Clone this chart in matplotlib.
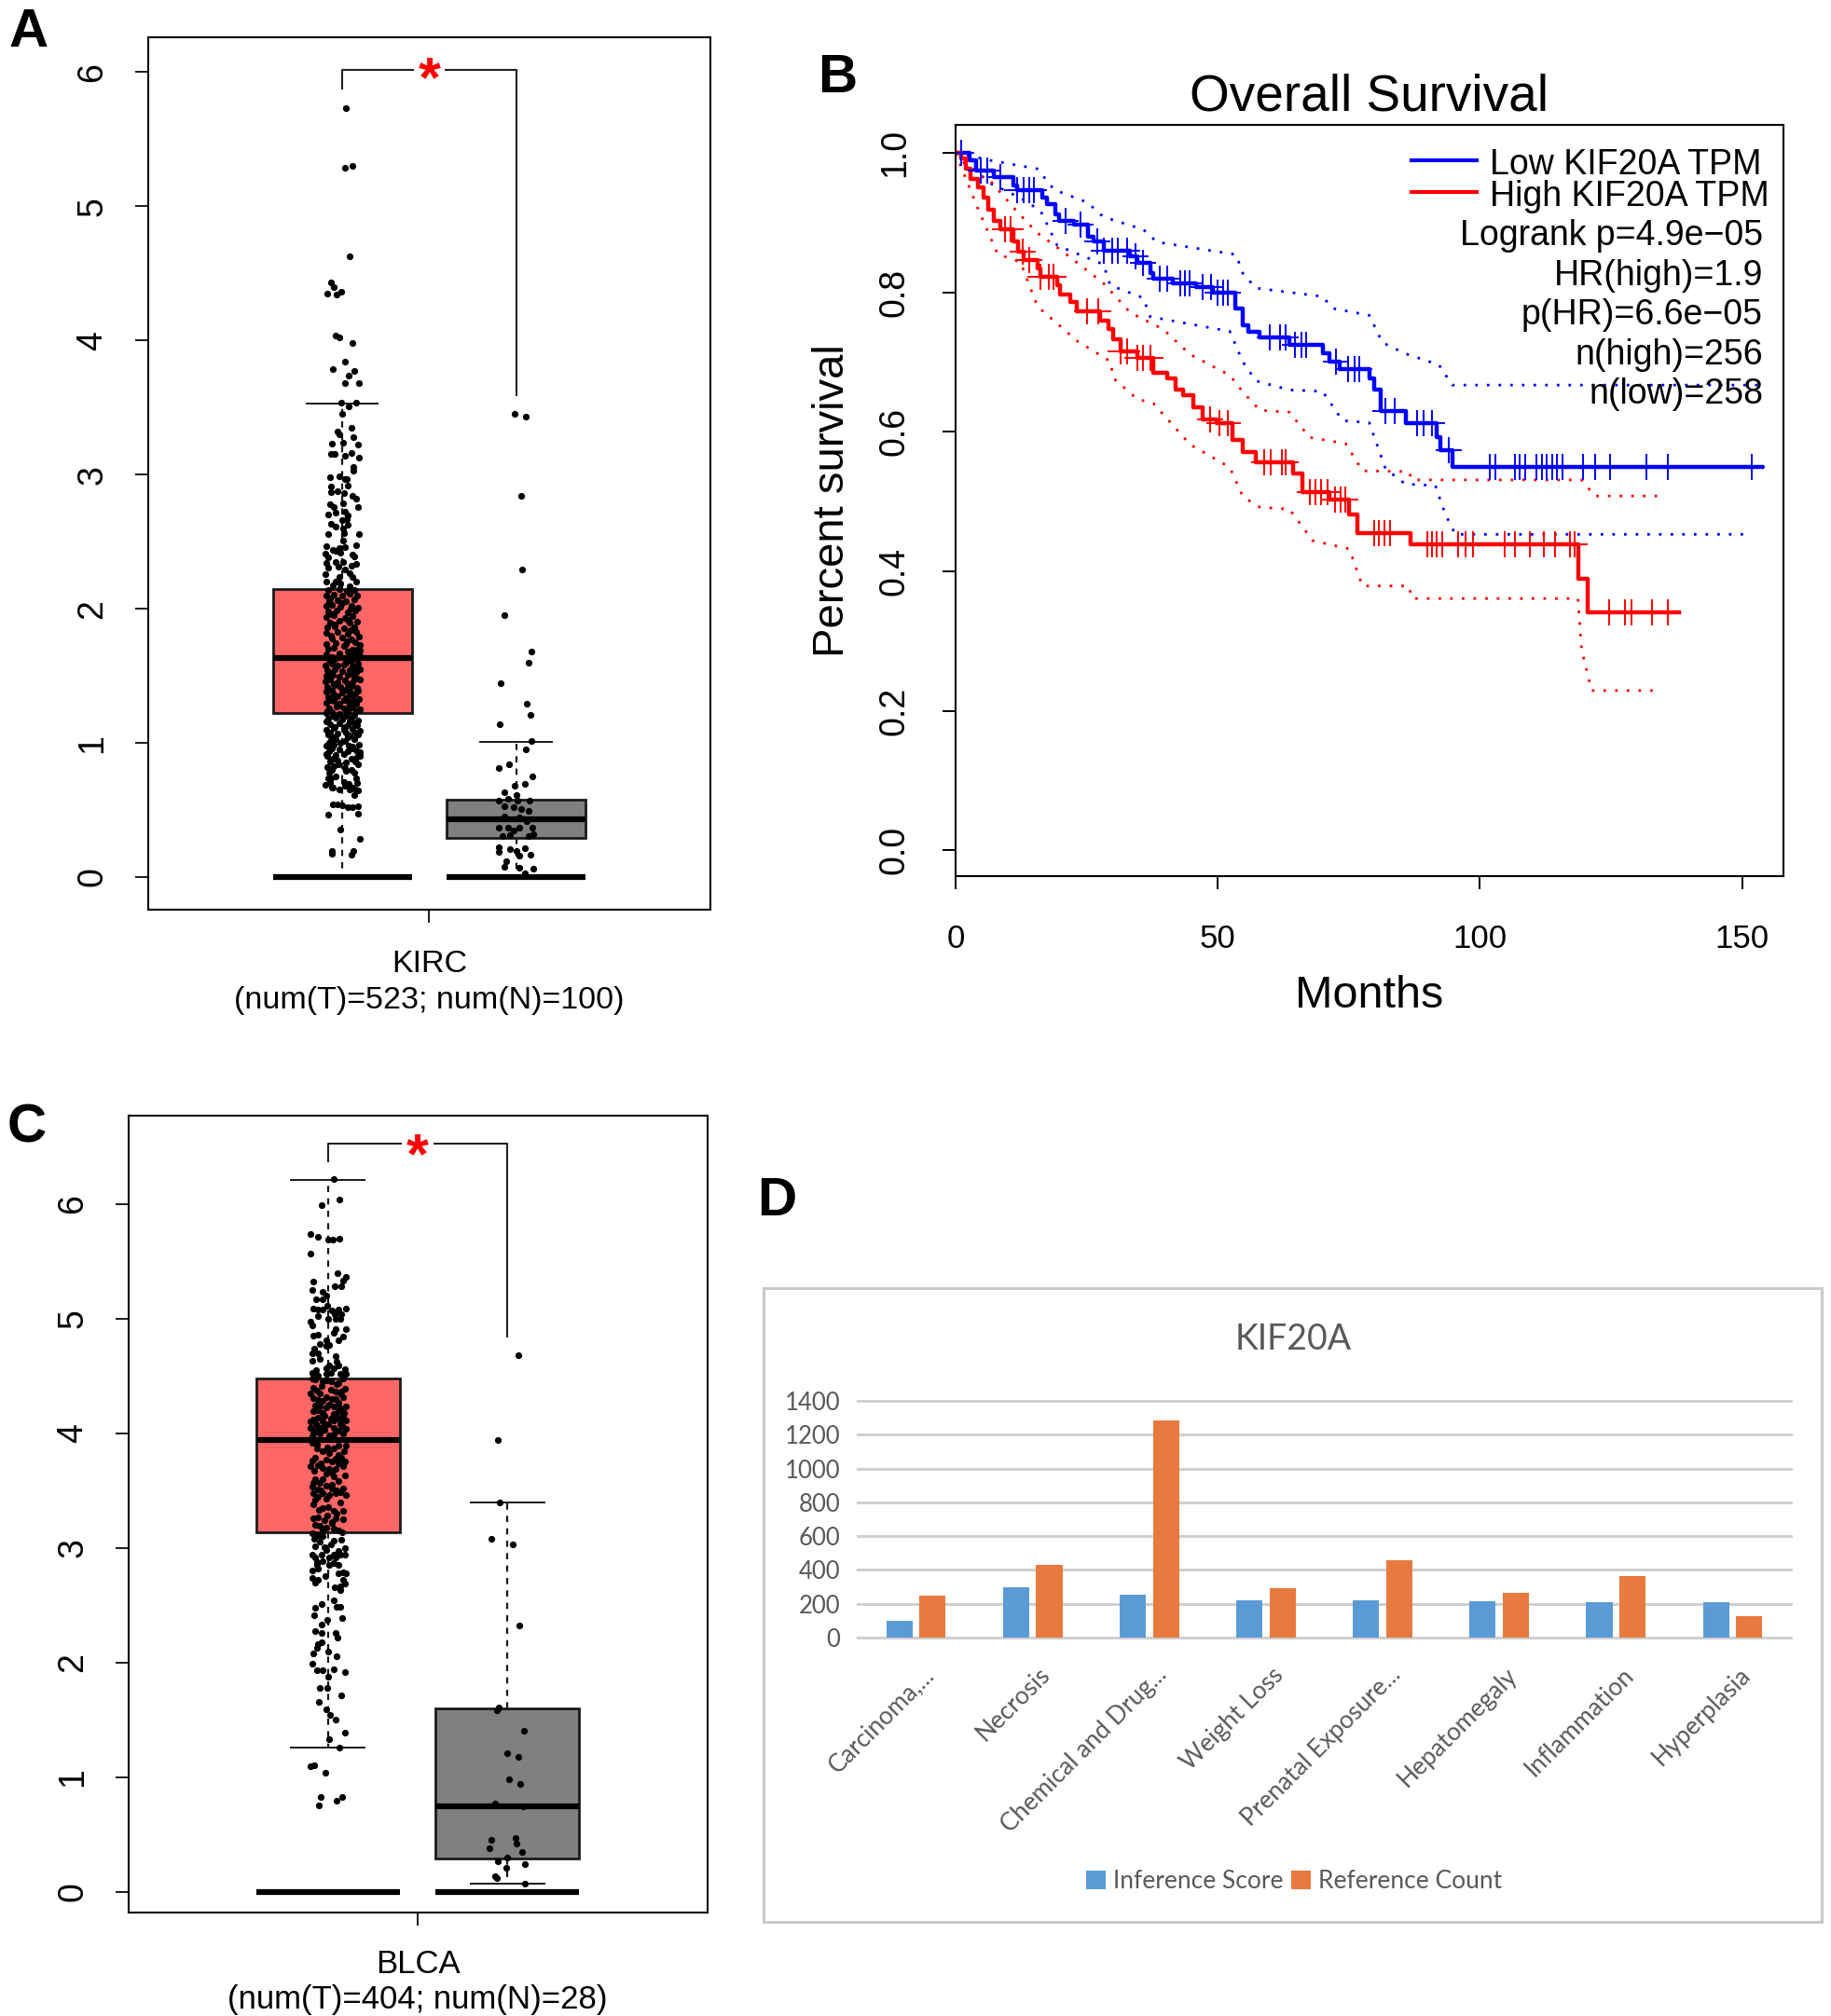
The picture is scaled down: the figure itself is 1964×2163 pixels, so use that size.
import numpy as np
import matplotlib
matplotlib.use("Agg")
import matplotlib.pyplot as plt
from matplotlib.lines import Line2D
from matplotlib.patches import Rectangle
from matplotlib.transforms import ScaledTranslation

plt.rcParams["font.family"] = ["Liberation Sans", "DejaVu Sans"]

W, H = 1965, 2163

# -------------------------------
# Data - panel A (KIRC)
# -------------------------------

kirc_stats = [
    dict(med=1.63, q1=1.22, q3=2.15, whislo=0.0, whishi=3.53),
    dict(med=0.43, q1=0.29, q3=0.58, whislo=0.0, whishi=1.01),
]
kirc_label = "KIRC\n(num(T)=523; num(N)=100)"

# (jitter, TPM value)
kirc_tumor = [
    (.02,5.73),(.017,5.29),(.06,5.30),(.04,4.63),(-.065,4.43),(-.05,4.40),(-.006,4.36),(-.085,4.35),(-.036,4.34),
    (-.04,4.04),(-.017,4.02),(.055,3.98),(.017,3.84),(-.055,3.79),(.07,3.77),(.036,3.74),(.017,3.68),(.095,3.68),
    (-.006,3.535),(.034,3.51),(.08,3.535),(0,3.45),(.05,3.35),(-.03,3.32),(-.02,3.30),(.065,3.28),(-.06,3.23),
    (.006,3.24),(.09,3.225),(-.065,3.155),(-.047,3.155),(.013,3.14),(.05,3.16),(.093,3.13),(.064,3.06),
    (.063,3.03),(-.073,2.98),(-.02,2.99),(.014,2.97),(.023,2.965),(-.066,2.91),(.032,2.92),(-.066,2.87),(-.03,2.875),
    (.01,2.86),(.06,2.84),(.077,2.82),(-.07,2.78),(.005,2.785),(.09,2.76),(-.05,2.755),(-.04,2.72),(.014,2.725),
    (-.082,2.70),(.03,2.695),(0,2.66),(.023,2.665),(-.066,2.63),(.03,2.625),(-.04,2.61),(.005,2.60),(-.084,2.56),
    (.095,2.555),(.01,2.565),(.005,2.51),(-.093,2.47),(.077,2.475),(.014,2.46),(-.02,2.455),(-.057,2.44),(-.04,2.435),
    (-.1,2.41),(-.013,2.415),(.06,2.405),(-.084,2.385),(.068,2.39),(-.093,2.34),(-.04,2.345),(.077,2.335),(.005,2.35),
    (-.025,2.315),(-.084,2.31),(.05,2.32),(.014,2.29),(-.097,2.26),(.04,2.265),(-.02,2.235),(.06,2.24),(-.093,2.20),
    (-.04,2.205),(-.013,2.19),(.077,2.20),(-.057,2.175),(.04,2.17),(-.084,2.14),(-.02,2.145),(.023,2.135),(.068,2.14),
    (-.09,2.10),(-.05,2.105),(0,2.095),(.04,2.11),(.085,2.10),(-.075,2.06),(-.03,2.065),(.02,2.055),(.07,2.07),
    (-.095,2.02),(-.06,2.03),(-.01,2.015),(.05,2.025),(.09,2.01),(-.08,1.98),(-.035,1.985),(.03,1.975),(.075,1.99),
    (-.09,1.94),(-.05,1.95),(.015,1.935),(.06,1.945),(-.07,1.90),(-.02,1.91),(.04,1.895),(.085,1.905),(-.085,1.86),
    (-.045,1.87),(.01,1.855),(.07,1.865),(-.09,1.82),(-.03,1.825),(.03,1.815),(.08,1.83),(-.06,1.78),(0,1.785),
    (.05,1.775),(.095,1.79),(-.095,1.74),(-.04,1.745),(.02,1.735),(.075,1.75),(.1,1.73),(-.08,1.70),(-.05,1.71),
    (.06,1.695),(.09,1.705),(.1,1.69),(-.09,1.66),(-.02,1.665),(.045,1.655),(.075,1.67),(.1,1.65),(-.075,1.62),
    (-.045,1.625),(.05,1.615),(.085,1.63),(-.1,1.58),(-.06,1.59),(-.03,1.575),(.01,1.585),(.06,1.57),(.09,1.59),
    (-.085,1.54),(-.045,1.55),(0,1.535),(.04,1.545),(.08,1.53),(.1,1.55),(-.09,1.50),(-.055,1.51),(-.02,1.495),
    (.03,1.505),(.07,1.49),(-.1,1.46),(-.07,1.47),(-.03,1.455),(.015,1.465),(.06,1.45),(.1,1.47),(-.085,1.42),
    (-.045,1.43),(-.01,1.415),(.05,1.425),(.085,1.41),(-.095,1.38),(-.06,1.39),(0,1.375),(.04,1.385),(.075,1.37),
    (-.08,1.34),(-.03,1.35),(.02,1.335),(.06,1.345),(.095,1.33),(-.09,1.30),(-.05,1.31),(-.015,1.295),(.035,1.305),
    (.08,1.29),(-.075,1.26),(-.035,1.27),(.01,1.255),(.055,1.265),(.1,1.25),(-.095,1.22),(-.06,1.23),(-.02,1.215),
    (.025,1.225),(.07,1.21),(-.08,1.18),(-.04,1.19),(0,1.175),(.05,1.185),(.09,1.17),(-.07,1.14),(-.02,1.15),
    (.03,1.135),(.07,1.145),(.085,1.13),(-.09,1.10),(-.05,1.11),(.01,1.095),(.06,1.105),(.1,1.09),(-.08,1.06),
    (-.03,1.07),(.04,1.055),(.09,1.065),(-.065,1.02),(-.04,1.03),(.015,1.015),(.07,1.025),(-.09,.98),(-.05,.99),
    (.06,.975),(.095,.985),(-.075,.94),(-.02,.95),(.03,.935),(.08,.945),(.1,.93),(-.085,.90),(-.04,.91),(.085,.895),
    (.1,.905),(-.07,.86),(-.03,.87),(.02,.855),(.075,.865),(-.085,.82),(-.05,.83),(.015,.815),(-.075,.78),(.02,.79),
    (.07,.775),(-.08,.74),(-.04,.75),(.08,.735),(-.066,.738),(-.07,.70),(.01,.71),(.035,.695),(.085,.705),(-.06,.665),
    (-.02,.655),(.06,.67),(.075,.65),(-.098,.687),(-.057,.668),(.014,.68),(.04,.656),(.09,.645),(.068,.61),
    (-.057,.545),(-.03,.54),(-.004,.534),(.03,.524),(.06,.524),(.09,.53),(.09,.47),(-.082,.464),(-.013,.355),
    (.098,.285),(-.063,.193),(-.063,.174),(.064,.193),(.05,.17),
    # the densest stretch, between the rows above
    (-.07,2.08),(.0,2.04),(.045,2.00),(-.06,1.96),(.03,1.92),(-.045,1.88),(.045,1.84),(-.065,1.80),(.025,1.76),
    (.01,1.72),(.03,1.68),(-.06,1.64),(.02,1.60),(.075,1.56),(-.07,1.52),(.05,1.52),(.085,1.48),(-.05,1.44),(.03,1.44),
    (-.075,1.40),(.02,1.40),(.09,1.39),(-.05,1.36),(.04,1.36),(-.07,1.32),(.01,1.32),(.065,1.31),(-.02,1.28),(.04,1.28),
    (-.085,1.24),(.03,1.24),(.08,1.235),(-.055,1.20),(.02,1.20),(-.095,1.16),(.04,1.16),(-.045,1.12),(.015,1.12),
    (-.07,1.08),(.02,1.08),(.075,1.08),(-.055,1.04),(.03,1.04),(-.075,1.00),(-.01,1.00),(.035,.98),(-.06,.96),(.05,.96),
    (-.09,.92),(.01,.92),(-.055,.88),(.05,.88),(-.025,.84),(.09,.84),(-.06,.80),(.05,.80),
]

kirc_normal = [
    (-.01,3.45),(.057,3.43),(.03,2.845),(.034,2.295),(-.066,1.95),(.09,1.68),(.074,1.595),(-.087,1.445),(.06,1.29),
    (.085,1.21),(-.093,1.14),(.09,1.015),(.055,.955),(-.1,.815),(-.038,.84),(.093,.75),(-.01,.68),(.053,.695),
    (-.066,.63),(0,.615),(-.097,.57),(-.045,.585),(.008,.57),(.078,.57),(-.066,.525),(-.012,.52),(.03,.505),(.072,.49),
    (-.066,.45),(.02,.445),(.06,.415),(-.097,.37),(-.045,.365),(-.012,.35),(.02,.365),(.093,.365),(-.076,.305),
    (-.034,.315),(.072,.305),(.097,.32),(-.097,.225),(-.034,.21),(0,.195),(.05,.215),(-.097,.185),(.02,.16),(.083,.17),
    (-.055,.12),(-.066,.075),(.02,.07),(.097,.06),(.05,.025),
]

# -------------------------------
# Data - panel C (BLCA)
# -------------------------------

blca_stats = [
    dict(med=3.94, q1=3.14, q3=4.48, whislo=1.26, whishi=6.21),
    dict(med=0.75, q1=0.29, q3=1.60, whislo=0.07, whishi=3.40),
]
blca_label = "BLCA\n(num(T)=404; num(N)=28)"

blca_tumor = [
    (.03,6.215),(.064,6.04),(-.038,5.99),(-.1,5.74),(-.055,5.71),(.002,5.69),(.026,5.685),(.062,5.70),(-.1,5.57),
    (.052,5.40),(.097,5.36),(.083,5.33),(-.08,5.32),(.036,5.28),(.075,5.28),(-.09,5.25),(-.03,5.23),(-.012,5.20),
    (-.068,5.165),(-.03,5.17),(-.007,5.115),(-.08,5.09),(-.055,5.08),(-.033,5.08),(.022,5.07),(.057,5.08),(.097,5.09),
    (.036,5.04),(.075,5.04),(-.055,5.025),(0,5.0),(.04,5.0),(-.1,4.97),(.07,5.0),(-.09,4.94),(.097,4.91),(.04,4.905),
    (.03,4.875),(-.085,4.85),(-.055,4.86),(.083,4.845),(.057,4.81),(-.012,4.81),(-.047,4.78),(.005,4.77),(-.078,4.735),
    (-.012,4.76),(-.09,4.70),(-.055,4.695),(.04,4.675),(-.09,4.635),(-.047,4.65),(.048,4.625),(.005,4.595),(.057,4.595),
    (-.068,4.55),(-.012,4.565),(.03,4.565),(.092,4.56),(-.09,4.53),(.014,4.53),(.066,4.52),(.1,4.52),(-.055,4.50),
    (-.012,4.52),(-.09,4.48),(-.073,4.47),(.083,4.48),(-.012,4.465),(.014,4.455),(-.038,4.415),(-.08,4.40),(.048,4.425),
    (.092,4.39),(-.1,4.345),(-.047,4.345),(.04,4.36),(.066,4.345),(-.012,4.315),(.022,4.30),(.083,4.315),(-.055,4.29),
    (-.03,4.28),(.057,4.27),(.005,4.25),(-.047,4.235),(.03,4.235),(-.012,4.225),(.1,4.235),(-.08,4.195),(-.055,4.205),
    (.057,4.19),(-.02,4.15),(.083,4.15),(-.055,4.135),(.014,4.13),(.048,4.145),(-.1,4.10),(-.03,4.10),(.1,4.11),
    (-.068,4.08),(0,4.08),(.066,4.08),(-.1,4.05),(-.047,4.05),(.03,4.05),(.1,4.035),(-.073,4.02),(-.02,4.03),(.057,4.02),
    (.083,4.0),(-.09,3.97),(.005,3.98),(-.047,3.995),(-.09,3.915),(.1,3.895),(-.064,3.87),(-.003,3.88),(.03,3.865),
    (.005,3.83),(.057,3.815),(.075,3.79),(-.09,3.76),(-.012,3.77),(.022,3.755),(.092,3.755),(-.055,3.725),(-.1,3.71),
    (-.03,3.70),(.005,3.69),(.04,3.69),(.083,3.715),(-.012,3.645),(.03,3.625),(.092,3.63),(-.073,3.60),(-.047,3.565),
    (-.09,3.535),(-.012,3.54),(.022,3.52),(.083,3.52),(-.055,3.51),(.066,3.49),(-.03,3.475),(-.08,3.475),(.04,3.475),
    (.005,3.46),(.1,3.46),(-.055,3.445),(-.012,3.43),(-.08,3.38),(-.03,3.35),(.03,3.32),(.083,3.32),(-.055,3.27),
    (-.003,3.28),(.083,3.25),(.04,3.255),(-.02,3.24),(-.073,3.2),(.022,3.225),(-.047,3.195),(-.012,3.18),(.03,3.17),
    (.057,3.155),(-.09,3.125),(-.055,3.115),(-.03,3.10),(.075,3.07),(-.047,3.055),(.014,3.03),(-.073,3.015),(-.02,3.005),
    (.092,3.0),(.03,2.945),(-.09,2.945),(-.038,2.94),(.066,2.945),(.092,2.94),(.005,2.92),(-.073,2.915),(.04,2.915),
    (-.03,2.885),(.03,2.87),(-.064,2.85),(.005,2.85),(-.09,2.80),(-.055,2.82),(.083,2.79),(.1,2.775),(.057,2.775),
    (-.09,2.74),(-.016,2.755),(-.055,2.725),(-.073,2.70),(.083,2.725),(.092,2.69),(.066,2.665),(.036,2.655),(.066,2.63),
    (.03,2.545),(-.038,2.51),(-.073,2.48),(.048,2.49),(.07,2.49),(-.078,2.41),(.078,2.39),(-.007,2.37),(-.038,2.335),
    (-.073,2.275),(-.038,2.26),(.04,2.255),(.054,2.22),(-.055,2.165),(-.038,2.18),(-.06,2.13),(.002,2.10),(-.08,2.08),
    (.045,2.055),(-.09,1.99),(-.06,1.93),(-.033,1.93),(.03,1.945),(.095,1.92),(.002,1.88),(-.047,1.78),(-.007,1.78),
    (.075,1.715),(-.05,1.66),(-.012,1.59),(.01,1.545),(.04,1.505),(.092,1.39),(.008,1.335),(.064,1.26),(-.075,1.107),
    (-.096,1.10),(-.013,1.037),(-.043,.825),(.08,.825),(.05,.795),(-.053,.755),
    # the densest stretch, between the rows above
    (-.03,4.45),(.06,4.44),(-.06,4.37),(.015,4.38),(.075,4.36),(-.085,4.31),(.04,4.30),(-.07,4.24),(.07,4.22),(-.03,4.18),
    (.03,4.17),(.09,4.18),(-.08,4.12),(.03,4.11),(.07,4.12),(-.02,4.06),(.08,4.06),(-.08,4.0),(.03,3.99),(-.06,3.90),
    (.06,3.89),(-.03,3.84),(.09,3.84),(-.07,3.79),(.04,3.78),(-.04,3.74),(.06,3.74),(-.075,3.67),(.02,3.66),(-.03,3.60),
    (.06,3.58),(-.08,3.57),(.02,3.55),(-.04,3.50),(.05,3.50),(-.07,3.42),(.07,3.40),(.0,3.36),(-.05,3.33),(.05,3.30),
    (-.08,3.26),(.02,3.22),(-.03,3.16),(.08,3.14),(-.075,3.08),(.03,3.06),(-.01,2.98),(.06,2.97),(-.06,2.88),(.06,2.85),
]

blca_normal = [
    (.062,4.685),(-.053,3.94),(-.045,3.40),(-.09,3.08),(.03,3.03),(.066,2.325),(-.05,1.605),(-.057,1.585),(.09,1.405),
    (0,1.21),(.062,1.18),(.008,.985),(.072,.945),(-.072,.77),(.085,.745),(.045,.47),(-.09,.45),(.05,.42),(-.1,.38),
    (.083,.345),(-.004,.30),(-.053,.27),(.098,.24),(-.008,.21),(-.072,.135),(-.06,.12),(.095,.075),
]

# -------------------------------
# Data - panel B (survival)
# -------------------------------

low_months = [0, 2.7, 3.9, 7.3, 11.1, 11.8, 16.6, 17.5, 19, 19.7, 22.5, 25.3, 26.3, 28.2, 33.3, 34.6, 37.1, 37.7, 41.5,
              45.9, 49.1, 53.3, 54.8, 55.8, 58, 63.7, 70, 71.3, 73.2, 78.9, 79.9, 81, 85.8, 91.8, 92.5, 94.7, 153.8]
low_surv = [1, .989, .974, .965, .953, .947, .936, .927, .912, .903, .897, .879, .873, .859, .852, .842, .828, .819, .813,
            .807, .799, .777, .753, .744, .736, .725, .713, .701, .690, .676, .661, .630, .612, .593, .573, .550, .550]

high_months = [0, 1, 1.9, 2.9, 4.2, 5.4, 6.3, 7.3, 8.6, 11.1, 12, 13, 15.6, 16.2, 19.4, 20, 21.9, 23.2, 27.6, 29.2, 30.1,
               31.4, 34.6, 37.7, 40.3, 41.9, 43.4, 45.3, 47.2, 49.7, 52.9, 54.8, 57.3, 64.3, 66.2, 71.3, 75.1, 76.6,
               86.7, 118.7, 120.6, 138]
high_surv = [1, .992, .977, .962, .950, .936, .918, .903, .890, .873, .858, .846, .834, .822, .810, .797, .786, .773, .759,
             .747, .733, .715, .706, .685, .676, .661, .652, .635, .618, .613, .589, .571, .556, .540, .513, .503, .482,
             .455, .439, .389, .341, .341]

low_up_months = [0, 6.7, 15.6, 18.8, 25.1, 28.2, 35.8, 38.4, 53.5, 54.8, 57.3, 70, 71.9, 78.9, 81.4, 85.8, 92.2, 94.7, 152.9]
low_up_surv = [1, .989, .977, .947, .929, .908, .890, .872, .854, .827, .806, .794, .777, .767, .728, .712, .696, .667, .667]
low_lo_months = [0, 2.9, 6.7, 12.4, 16.2, 19.4, 28.2, 29.5, 35.8, 37.1, 52.3, 54.8, 57.3, 63.7, 70, 73.8, 78.9, 82, 85.8,
                 91.5, 93.4, 95.3, 151.1]
low_lo_surv = [1, .980, .956, .935, .917, .867, .840, .810, .792, .765, .744, .700, .673, .660, .658, .616, .613, .547,
               .525, .523, .482, .453, .453]
high_up_months = [0, 2.9, 6.7, 11.8, 15.6, 20, 28.2, 33.3, 39.6, 44.7, 52.3, 54.8, 58, 63.7, 67.5, 74.4, 77.6, 86.4, 87.1,
                  119.4, 121.9, 134.6]
high_up_surv = [1, .974, .959, .915, .885, .861, .813, .771, .747, .711, .681, .657, .631, .628, .592, .583, .544, .543,
                .531, .531, .508, .508]
high_lo_months = [0, 4.2, 8, 12.4, 15.6, 23.2, 29.5, 30.1, 34.6, 37.7, 44.7, 52.3, 54.8, 58, 63.7, 68.1, 75.1, 77.6, 86.4,
                  87.1, 118.7, 119.4, 121.3, 134.6]
high_lo_surv = [1, .921, .855, .843, .780, .730, .701, .677, .647, .641, .582, .549, .507, .492, .489, .444, .432, .379,
                .379, .361, .361, .288, .229, .229]

low_censor = [1, 4.8, 6.1, 8.6, 11.8, 13, 14.1, 14.9, 20.9, 23.8, 27, 28.2, 29.9, 31, 32.7, 34.3, 35.8, 39, 40.3, 42.8,
              43.7, 44.7, 47.2, 48.7, 50, 51, 52, 59.9, 61.8, 63, 64.7, 65.9, 66.8, 72.5, 74.8, 76.1, 77, 82, 83.7, 88,
              89.2, 90.9, 94, 101.9, 102.9, 106.7, 107.6, 108.6, 110.8, 111.8, 112.8, 113.8, 114.7, 115.8, 119.7, 121.9,
              124.8, 131.8, 135.8, 151.8]
high_censor = [9.5, 10.5, 12.8, 14.1, 16.2, 17.8, 18.7, 25.1, 27.2, 31.4, 32.7, 34.6, 35.8, 37.1, 48.5, 50.4, 51.9, 58.9,
               60.1, 62.2, 63, 67.5, 68.7, 69.7, 71, 72.3, 73.5, 74.4, 79.9, 80.8, 81.8, 82.9, 90, 90.9, 91.8, 92.8, 95.9,
               97.2, 98.7, 104.8, 106.7, 109.6, 112.2, 114.3, 117.1, 118.1, 124.7, 127.6, 128.9, 132.8, 135.8]

legend_labels = ["Low KIF20A TPM", "High KIF20A TPM"]
stat_lines = ["Logrank p=4.9e\u221205", "HR(high)=1.9", "p(HR)=6.6e\u221205", "n(high)=256", "n(low)=258"]

# -------------------------------
# Data - panel D (bars)
# -------------------------------

categories = ["Carcinoma,...", "Necrosis", "Chemical and Drug...", "Weight Loss", "Prenatal Exposure...",
              "Hepatomegaly", "Inflammation", "Hyperplasia"]
inference_score = [97, 297, 256, 223, 223, 215, 208, 208]
reference_count = [249, 431, 1282, 290, 456, 264, 364, 126]
bar_ticks = [0, 200, 400, 600, 800, 1000, 1200, 1400]


def px_axes(fig, left, top, right, bottom):
    return fig.add_axes([left / W, 1 - bottom / H, (right - left) / W, (bottom - top) / H])


def px_text(fig, x, y, s, **kw):
    fig.text(x / W, 1 - y / H, s, **kw)


def draw_box_panel(ax, stats, tumor, normal, label, ylim, xlim, yticks, bracket_y, left_end, right_end,
                   star_drop, label_size, label_spacing, label_pad):
    boxes = ax.bxp(stats, positions=[1, 2], widths=0.8, patch_artist=True, showfliers=False, capwidths=0.41,
                   boxprops=dict(linewidth=2, edgecolor="#1a1a1a"),
                   medianprops=dict(linewidth=4.5, color="black", solid_capstyle="butt"),
                   whiskerprops=dict(linewidth=1.6, color="#1a1a1a", linestyle=(0, (3, 3))),
                   capprops=dict(linewidth=1.4, color="#1a1a1a"))
    boxes["boxes"][0].set_facecolor("#FF6666")
    boxes["boxes"][1].set_facecolor("#808080")

    # thick line of zero values under both boxes
    ax.hlines([0, 0], [0.6, 1.6], [1.4, 2.4], color="black", linewidth=4.5, zorder=3)

    for pos, pts in ((1, tumor), (2, normal)):
        pts = np.array(pts)
        ax.plot(pos + pts[:, 0], pts[:, 1], "o", color="black", markersize=5.2, markeredgewidth=0, zorder=4)

    # significance bracket
    ax.plot([1, 1, 1.405], [left_end, bracket_y, bracket_y], color="#222222", linewidth=1.5)
    ax.plot([1.595, 2, 2], [bracket_y, bracket_y, right_end], color="#222222", linewidth=1.5)
    ax.text(1.5, bracket_y, "*", color="red", fontsize=44, fontweight="bold", ha="center", va="center_baseline",
            transform=ax.transData + ScaledTranslation(0, -star_drop / 72, plt.gcf().dpi_scale_trans))

    ax.set_xlim(*xlim)
    ax.set_ylim(*ylim)
    ax.set_xticks([1.5], [label], fontsize=label_size, linespacing=label_spacing)
    ax.set_yticks(yticks)
    ax.set_yticklabels([str(t) for t in yticks], rotation=90, va="center", fontsize=27)
    ax.tick_params(axis="both", length=10, width=1.4, color="#1a1a1a")
    ax.tick_params(axis="y", pad=20)
    ax.tick_params(axis="x", pad=label_pad)
    for s in ax.spines.values():
        s.set_linewidth(1.5)


fig = plt.figure(figsize=(W / 100, H / 100), dpi=100)

# -------------------------------
# Panel A
# -------------------------------

ax_a = px_axes(fig, 159, 40, 762, 976)
draw_box_panel(ax_a, kirc_stats, kirc_tumor, kirc_normal, kirc_label, (-0.243, 6.26), (-0.118, 3.119),
               [0, 1, 2, 3, 4, 5, 6], 6.02, 5.875, 3.59, 5, 24.5, 1.32, 21)

# -------------------------------
# Panel C
# -------------------------------

ax_c = px_axes(fig, 138, 1197, 759, 2052)
draw_box_panel(ax_c, blca_stats, blca_tumor, blca_normal, blca_label, (-0.18, 6.77), (-0.111, 3.115),
               [0, 1, 2, 3, 4, 5, 6], 6.53, 6.375, 4.84, 7, 25, 1.2, 18)

# -------------------------------
# Panel B
# -------------------------------

ax_b = px_axes(fig, 1025, 134, 1913, 940)

dots = (0, (1, 3.5))
ax_b.plot(low_up_months, low_up_surv, color="blue", linewidth=2, linestyle=dots)
ax_b.plot(low_lo_months, low_lo_surv, color="blue", linewidth=2, linestyle=dots)
ax_b.plot(high_up_months, high_up_surv, color="red", linewidth=2, linestyle=dots)
ax_b.plot(high_lo_months, high_lo_surv, color="red", linewidth=2, linestyle=dots)

ax_b.step(low_months, low_surv, where="post", color="blue", linewidth=3.2)
ax_b.step(high_months, high_surv, where="post", color="red", linewidth=3.2)

# censor marks sit on the curve at each censor time
low_at = np.array(low_surv)[np.searchsorted(low_months, low_censor, side="right") - 1]
high_at = np.array(high_surv)[np.searchsorted(high_months, high_censor, side="right") - 1]
ax_b.plot(low_censor, low_at, "+", color="blue", markersize=20, markeredgewidth=1.4)
ax_b.plot(high_censor, high_at, "+", color="red", markersize=20, markeredgewidth=1.4)

ax_b.set_xlim(0, 157.9)
ax_b.set_ylim(-0.037, 1.04)
ax_b.set_xticks([0, 50, 100, 150])
ax_b.set_yticks([0, 0.2, 0.4, 0.6, 0.8, 1.0])
ax_b.set_yticklabels(["0.0", "0.2", "0.4", "0.6", "0.8", "1.0"], rotation=90, va="center")
ax_b.tick_params(axis="both", length=10, width=1.4, labelsize=25)
ax_b.tick_params(axis="y", labelsize=27, pad=24)
ax_b.tick_params(axis="x", pad=27)
for s in ax_b.spines.values():
    s.set_linewidth(1.5)

ax_b.set_title("Overall Survival", fontsize=39.5, pad=11)
ax_b.set_xlabel("Months", fontsize=35)
ax_b.set_ylabel("Percent survival", fontsize=34)
ax_b.xaxis.set_label_coords(0.5, -0.132)
ax_b.yaxis.set_label_coords(-0.124, 0.5)

# legend text is placed by hand to follow the R layout
for y_px, colour, text in zip((172, 206), ("blue", "red"), legend_labels):
    fig.add_artist(Line2D([1514 / W, 1584 / W], [1 - y_px / H, 1 - y_px / H], color=colour, linewidth=3))
    px_text(fig, 1598, y_px + 5, text, fontsize=27, ha="left", va="center")
for y_px, text in zip((253, 296, 338, 381, 423), stat_lines):
    px_text(fig, 1891, y_px, text, fontsize=27, ha="right", va="center")

# -------------------------------
# Panel D
# -------------------------------

fig.add_artist(Rectangle((819 / W, 1 - 2062 / H), (1954 - 819) / W, (2062 - 1382) / H, transform=fig.transFigure,
                         facecolor="white", edgecolor="#C9C9C9", linewidth=2.2))

ax_d = px_axes(fig, 920, 1503, 1921, 1757)
ax_d.set_zorder(2)
ax_d.patch.set_alpha(0)
x_pos = np.arange(len(categories))
bars_1 = ax_d.bar(x_pos - 0.142, inference_score, width=0.225, color="#5B9BD5", zorder=3, label="Inference Score")
bars_2 = ax_d.bar(x_pos + 0.142, reference_count, width=0.225, color="#E8793F", zorder=3, label="Reference Count")
ax_d.set_xlim(-0.5, len(categories) - 0.5)
ax_d.set_ylim(0, 1400)
ax_d.set_yticks(bar_ticks)
ax_d.grid(axis="y", color="#CFCFCF", linewidth=2.2, zorder=0, clip_on=False)
ax_d.set_axisbelow(True)
for s in ax_d.spines.values():
    s.set_visible(False)
ax_d.tick_params(axis="both", length=0, labelcolor="#595959")
ax_d.tick_params(axis="y", labelsize=18.5, pad=13.5)
for t in ax_d.get_yticklabels():
    t.set_family("Lato")
ax_d.set_xticks(x_pos)
ax_d.set_xticklabels(categories, rotation=45, ha="right", va="center", rotation_mode="anchor", fontsize=19, family="Lato")
ax_d.tick_params(axis="x", pad=26)
shift = ScaledTranslation(15 / 100, 0, fig.dpi_scale_trans)
for t in ax_d.get_xticklabels():
    t.set_transform(t.get_transform() + shift)

px_text(fig, 1387, 1437, "KIF20A", fontsize=27, color="#595959", family="Lato", ha="center", va="center")
leg = fig.legend(handles=[bars_1, bars_2], loc="center", bbox_to_anchor=(1388 / W, 1 - 2019 / H), ncol=2, frameon=False,
                 prop={"family": "Lato", "size": 19}, labelcolor="#595959", handlelength=0.8, handleheight=0.8,
                 handletextpad=0.3, columnspacing=0.3)
leg.set_zorder(3)

# -------------------------------
# Panel letters
# -------------------------------

for x_px, y_px, letter in ((10, 35, "A"), (877, 84, "B"), (8, 1211, "C"), (812, 1289, "D")):
    px_text(fig, x_px, y_px, letter, fontsize=42, fontweight="bold", ha="left", va="center")

fig.savefig("out.png", dpi=100)
